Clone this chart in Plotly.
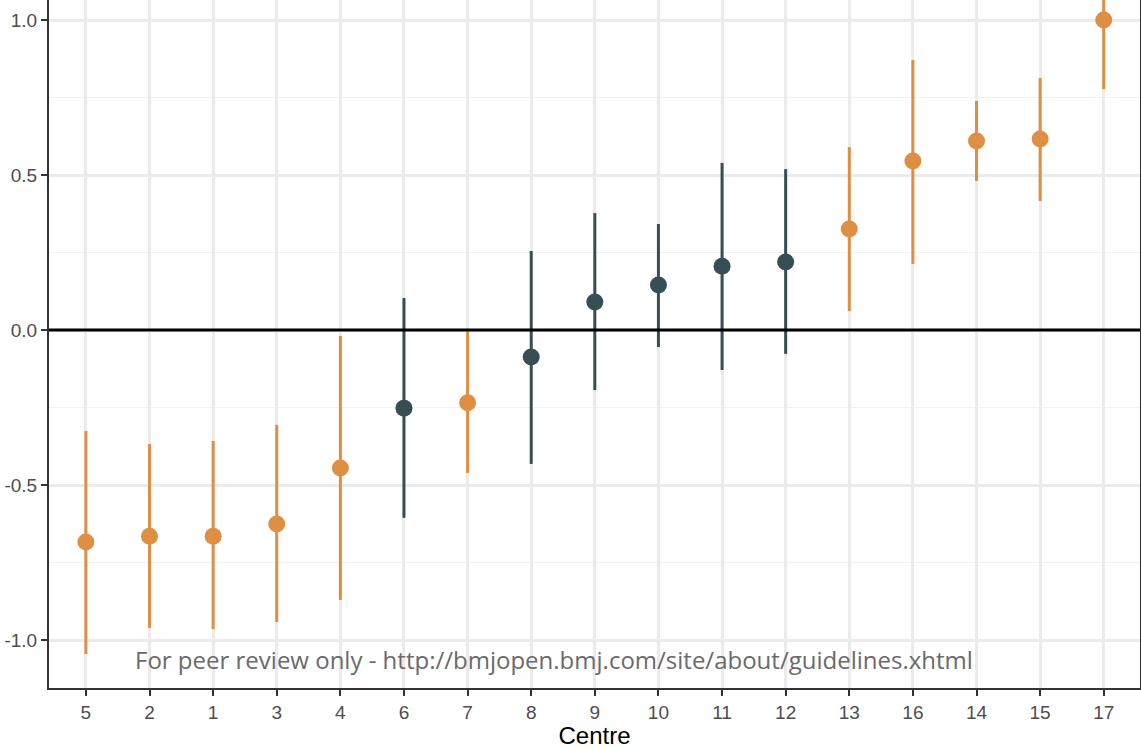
import plotly.graph_objects as go

centres = ["5", "2", "1", "3", "4", "6", "7", "8", "9", "10", "11", "12", "13", "16", "14", "15", "17"]
estimate = [-0.684, -0.665, -0.665, -0.626, -0.445, -0.252, -0.235, -0.087, 0.090, 0.145, 0.206, 0.219, 0.326, 0.545, 0.610, 0.616, 1.000]
lower = [-1.045, -0.961, -0.965, -0.942, -0.871, -0.606, -0.461, -0.432, -0.194, -0.055, -0.129, -0.077, 0.061, 0.213, 0.481, 0.416, 0.777]
upper = [-0.326, -0.368, -0.358, -0.306, -0.019, 0.103, -0.003, 0.255, 0.377, 0.342, 0.539, 0.519, 0.590, 0.871, 0.739, 0.813, 1.223]
group = ["sig", "sig", "sig", "sig", "sig", "ns", "sig", "ns", "ns", "ns", "ns", "ns", "sig", "sig", "sig", "sig", "sig"]

colors = {"sig": "#DF8F44", "ns": "#374E55"}

fig = go.Figure()
for g in ["sig", "ns"]:
    idx = [i for i, v in enumerate(group) if v == g]
    fig.add_trace(go.Scatter(
        x=idx,
        y=[estimate[i] for i in idx],
        mode="markers",
        marker=dict(size=17, color=colors[g]),
        error_y=dict(type="data", symmetric=False,
                     array=[upper[i] - estimate[i] for i in idx],
                     arrayminus=[estimate[i] - lower[i] for i in idx],
                     thickness=3, width=0, color=colors[g]),
        showlegend=False,
        hoverinfo="skip",
    ))

fig.add_shape(type="line", xref="paper", x0=0, x1=1, yref="y", y0=0, y1=0,
              line=dict(color="black", width=3), layer="above")

fig.add_annotation(text="For peer review only - http://bmjopen.bmj.com/site/about/guidelines.xhtml",
                   xref="paper", yref="paper", x=0.463, y=0.041, yanchor="middle", xanchor="center",
                   showarrow=False,
                   font=dict(family="Open Sans", size=24, color="#6a6a6a"))

fig.update_layout(
    width=1141, height=749,
    margin=dict(l=49, r=1, t=0, b=61),
    plot_bgcolor="white", paper_bgcolor="white",
    font=dict(family="Liberation Sans, Arial", color="#4D4D4D"),
    xaxis=dict(
        range=[-0.58, 16.57], tickmode="array", tickvals=list(range(len(centres))), ticktext=centres,
        showgrid=True, gridcolor="#EBEBEB", gridwidth=2.5,
        showline=True, linecolor="#333333", linewidth=2, mirror=True,
        ticks="outside", ticklen=6, tickwidth=2, tickcolor="#333333",
        tickfont=dict(size=19, color="#4D4D4D"),
        title=dict(text="Centre", font=dict(size=24, color="black"), standoff=2),
        zeroline=False, automargin=False,
    ),
    yaxis=dict(
        range=[-1.1548, 1.0645], tickvals=[-1.0, -0.5, 0.0, 0.5, 1.0],
        ticktext=["-1.0", "-0.5", "0.0", "0.5", "1.0"],
        showgrid=True, gridcolor="#EBEBEB", gridwidth=2.5,
        minor=dict(tickvals=[-0.75, -0.25, 0.25, 0.75], showgrid=True, gridcolor="#F2F2F2", gridwidth=1.2, ticks=""),
        showline=True, linecolor="#333333", linewidth=2, mirror=True,
        ticks="outside", ticklen=6, tickwidth=2, tickcolor="#333333",
        tickfont=dict(size=19, color="#4D4D4D"),
        zeroline=False, automargin=False,
    ),
)

fig.write_html("out.html", config={"displayModeBar": False},
               post_script="document.body.style.margin='0';document.body.style.overflow='hidden';")
